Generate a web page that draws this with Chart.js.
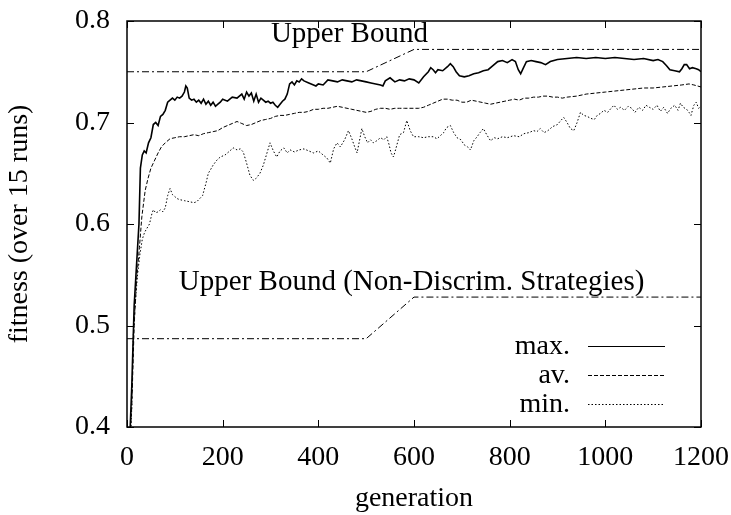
<!DOCTYPE html>
<html>
<head>
<meta charset="utf-8">
<script src="https://cdn.jsdelivr.net/npm/chart.js@4/dist/chart.umd.min.js"></script>
<style>
  html, body { margin: 0; padding: 0; background: #fff; }
  #wrap { width: 731px; height: 515px; }
</style>
</head>
<body>
<div id="wrap"><canvas id="fitChart" width="731" height="515"></canvas></div>
<script>
// Series: [generation, fitness]
const maxSeries = [
  [5,0.38],[10,0.44],[15,0.52],[20,0.56],[25,0.6],[28,0.655],[32,0.668],[36,0.672],[40,0.67],[45,0.68],
  [50,0.685],[55,0.698],[60,0.7],[65,0.697],[70,0.706],[75,0.708],[80,0.712],[85,0.72],[90,0.722],[95,0.724],
  [100,0.722],[105,0.725],[110,0.724],[115,0.726],[120,0.73],[123,0.736],[126,0.734],[130,0.724],[135,0.722],[140,0.723],
  [145,0.72],[150,0.722],[155,0.719],[160,0.723],[165,0.718],[170,0.721],[175,0.717],[180,0.72],[185,0.716],[190,0.718],
  [195,0.72],[200,0.723],[210,0.721],[220,0.725],[230,0.724],[240,0.728],[245,0.723],[250,0.73],[255,0.726],[260,0.729],
  [265,0.721],[270,0.728],[275,0.72],[280,0.724],[285,0.722],[290,0.72],[295,0.721],[300,0.719],[305,0.72],[310,0.717],
  [315,0.715],[320,0.718],[325,0.721],[330,0.723],[335,0.728],[340,0.738],[345,0.74],[350,0.737],[355,0.741],[360,0.74],
  [365,0.743],[370,0.741],[380,0.739],[390,0.737],[395,0.736],[400,0.738],[410,0.737],[420,0.742],[430,0.741],[440,0.74],
  [450,0.742],[460,0.741],[470,0.74],[480,0.742],[490,0.741],[500,0.74],[510,0.739],[520,0.738],[530,0.737],[535,0.736],
  [540,0.741],[550,0.744],[560,0.74],[570,0.742],[580,0.741],[590,0.743],[600,0.742],[610,0.739],[620,0.745],[630,0.75],
  [635,0.754],[640,0.752],[645,0.749],[650,0.752],[660,0.751],[670,0.755],[676,0.758],[682,0.755],[688,0.75],[695,0.746],
  [705,0.745],[715,0.746],[725,0.748],[735,0.749],[745,0.751],[755,0.752],[765,0.756],[775,0.76],[785,0.761],[795,0.759],
  [805,0.762],[812,0.76],[818,0.752],[823,0.748],[828,0.753],[835,0.76],[845,0.761],[855,0.76],[865,0.759],[875,0.757],
  [885,0.76],[900,0.762],[920,0.763],[940,0.764],[960,0.763],[980,0.764],[1000,0.763],[1020,0.764],[1040,0.763],[1060,0.762],
  [1080,0.763],[1100,0.761],[1110,0.762],[1120,0.76],[1128,0.756],[1135,0.752],[1145,0.751],[1155,0.75],[1160,0.753],[1165,0.757],
  [1170,0.757],[1176,0.753],[1182,0.754],[1190,0.753],[1195,0.752],[1200,0.75]
];

const avSeries = [
  [5,0.38],[10,0.42],[15,0.5],[20,0.545],[26,0.577],[31,0.607],[38,0.633],[44,0.645],[50,0.655],[58,0.663],
  [65,0.67],[72,0.676],[80,0.68],[90,0.684],[100,0.685],[110,0.686],[120,0.686],[130,0.687],[140,0.688],[150,0.687],
  [160,0.689],[170,0.69],[180,0.691],[190,0.692],[200,0.695],[210,0.697],[220,0.699],[230,0.701],[240,0.699],[250,0.697],
  [260,0.698],[270,0.7],[280,0.702],[290,0.703],[300,0.704],[310,0.706],[320,0.707],[330,0.707],[340,0.708],[350,0.709],
  [360,0.71],[370,0.71],[380,0.711],[390,0.713],[400,0.713],[410,0.714],[420,0.714],[430,0.715],[440,0.716],[450,0.715],
  [460,0.714],[470,0.713],[480,0.712],[490,0.711],[500,0.71],[510,0.711],[520,0.713],[530,0.714],[540,0.714],[550,0.713],
  [560,0.714],[570,0.714],[580,0.714],[590,0.714],[600,0.714],[610,0.714],[620,0.715],[630,0.717],[640,0.719],[650,0.721],
  [660,0.723],[670,0.723],[680,0.722],[690,0.722],[700,0.72],[710,0.72],[720,0.722],[730,0.721],[740,0.72],[750,0.719],
  [760,0.718],[770,0.719],[780,0.72],[790,0.721],[800,0.722],[810,0.723],[820,0.722],[830,0.724],[840,0.724],[850,0.725],
  [860,0.725],[870,0.726],[880,0.726],[890,0.725],[900,0.725],[910,0.724],[920,0.725],[940,0.726],[960,0.728],[980,0.729],
  [1000,0.73],[1020,0.731],[1040,0.732],[1060,0.733],[1080,0.734],[1100,0.734],[1120,0.735],[1140,0.736],[1160,0.737],[1175,0.738],
  [1185,0.737],[1200,0.735]
];

const minSeries = [
  [7,0.38],[10,0.42],[13,0.489],[17,0.52],[22,0.55],[27,0.57],[32,0.585],[37,0.592],[42,0.596],[47,0.6],
  [52,0.61],[55,0.614],[60,0.611],[65,0.612],[70,0.614],[75,0.612],[80,0.616],[85,0.628],[90,0.635],[95,0.629],
  [100,0.627],[105,0.625],[110,0.624],[120,0.623],[130,0.622],[140,0.621],[146,0.622],[152,0.625],[158,0.628],[165,0.64],
  [170,0.65],[174,0.653],[180,0.658],[188,0.663],[195,0.666],[205,0.668],[215,0.672],[222,0.675],[230,0.673],[237,0.674],
  [243,0.671],[250,0.66],[257,0.648],[264,0.643],[270,0.645],[278,0.65],[285,0.658],[292,0.669],[299,0.68],[306,0.672],
  [313,0.666],[320,0.672],[328,0.675],[335,0.67],[341,0.673],[350,0.671],[360,0.673],[370,0.674],[380,0.672],[390,0.67],
  [400,0.672],[410,0.668],[418,0.665],[425,0.66],[432,0.674],[439,0.68],[446,0.676],[455,0.683],[463,0.692],[470,0.684],
  [476,0.676],[481,0.67],[486,0.682],[491,0.694],[497,0.686],[503,0.68],[509,0.683],[515,0.68],[522,0.682],[530,0.685],
  [537,0.683],[543,0.686],[548,0.678],[552,0.67],[557,0.666],[562,0.674],[570,0.688],[578,0.69],[585,0.702],[592,0.692],
  [599,0.686],[610,0.686],[620,0.685],[630,0.686],[640,0.686],[648,0.684],[655,0.687],[662,0.69],[668,0.695],[676,0.697],
  [683,0.69],[690,0.685],[698,0.683],[705,0.678],[712,0.676],[718,0.673],[725,0.682],[732,0.686],[738,0.69],[745,0.694],
  [752,0.688],[760,0.682],[768,0.685],[775,0.684],[785,0.686],[795,0.685],[808,0.687],[820,0.686],[830,0.689],[840,0.69],
  [850,0.692],[857,0.691],[864,0.694],[872,0.69],[880,0.692],[890,0.696],[900,0.698],[907,0.702],[913,0.705],[920,0.7],
  [927,0.694],[934,0.692],[941,0.7],[948,0.71],[955,0.707],[962,0.706],[970,0.704],[977,0.703],[983,0.707],[990,0.709],
  [997,0.712],[1005,0.71],[1012,0.714],[1018,0.717],[1025,0.713],[1032,0.715],[1040,0.712],[1048,0.716],[1055,0.714],[1062,0.71],
  [1070,0.715],[1078,0.712],[1085,0.717],[1092,0.715],[1100,0.713],[1108,0.717],[1115,0.711],[1122,0.715],[1130,0.709],[1137,0.714],
  [1145,0.717],[1152,0.712],[1157,0.719],[1163,0.715],[1170,0.713],[1175,0.71],[1179,0.707],[1185,0.717],[1190,0.72],[1195,0.714],
  [1200,0.716]
];

const upperBound = [[0,0.75],[500,0.75],[600,0.772],[1200,0.772]];
const upperBoundNonDiscrim = [[0,0.487],[500,0.487],[600,0.528],[1200,0.528]];

const xTicks = [0, 200, 400, 600, 800, 1000, 1200];
const yTicks = [0.4, 0.5, 0.6, 0.7, 0.8];

const legendNames = ['max.', 'av.', 'min.'];
const boundLabels = [
  { text: 'Upper Bound', gen: 465, fit: 0.787 },
  { text: 'Upper Bound (Non-Discrim. Strategies)', gen: 595, fit: 0.542 }
];

const FONT = '"Liberation Serif", "Times New Roman", serif';
const toPts = arr => arr.map(p => ({ x: p[0], y: p[1] }));

const lineStyles = [
  { width: 1.6, dash: [] },
  { width: 1, dash: [4, 2] },
  { width: 1, dash: [1.5, 2] }
];

// frame, inward ticks, text labels and key
const decorPlugin = {
  id: 'decor',
  afterDraw(chart) {
    const { ctx, chartArea: a, scales: { x, y } } = chart;
    ctx.save();
    ctx.strokeStyle = '#000';
    ctx.lineWidth = 1.5;
    ctx.strokeRect(a.left, a.top, a.right - a.left, a.bottom - a.top);

    ctx.lineWidth = 1;
    ctx.beginPath();
    xTicks.forEach(t => {
      const px = Math.round(x.getPixelForValue(t)) + 0.5;
      ctx.moveTo(px, a.bottom); ctx.lineTo(px, a.bottom - 7);
      ctx.moveTo(px, a.top); ctx.lineTo(px, a.top + 7);
    });
    yTicks.forEach(t => {
      const py = Math.round(y.getPixelForValue(t)) + 0.5;
      ctx.moveTo(a.left, py); ctx.lineTo(a.left + 7, py);
      ctx.moveTo(a.right, py); ctx.lineTo(a.right - 7, py);
    });
    ctx.stroke();

    ctx.fillStyle = '#000';
    ctx.font = '29px ' + FONT;
    ctx.textAlign = 'center';
    ctx.textBaseline = 'middle';
    boundLabels.forEach(l => {
      ctx.fillText(l.text, x.getPixelForValue(l.gen), y.getPixelForValue(l.fit));
    });

    // key
    ctx.font = '28px ' + FONT;
    ctx.textAlign = 'right';
    legendNames.forEach((name, i) => {
      const py = a.bottom - 81 + i * 29;
      ctx.fillText(name, a.right - 131, py + 1);
      ctx.beginPath();
      ctx.lineWidth = i === 0 ? 1.2 : 1;
      ctx.setLineDash(lineStyles[i].dash);
      ctx.moveTo(a.right - 113, py + 0.5);
      ctx.lineTo(a.right - 36, py + 0.5);
      ctx.stroke();
    });
    ctx.restore();
  }
};

const curve = (label, data, i) => ({
  label,
  data: toPts(data),
  borderColor: '#000',
  borderWidth: lineStyles[i].width,
  borderDash: lineStyles[i].dash,
  pointRadius: 0,
  tension: 0,
  fill: false
});

const bound = (label, data) => ({
  label,
  data: toPts(data),
  borderColor: '#000',
  borderWidth: 1,
  borderDash: [7, 3, 2, 3],
  pointRadius: 0,
  tension: 0,
  fill: false
});

new Chart(document.getElementById('fitChart').getContext('2d'), {
  type: 'line',
  data: {
    datasets: [
      bound('Upper Bound', upperBound),
      bound('Upper Bound (Non-Discrim. Strategies)', upperBoundNonDiscrim),
      curve('max.', maxSeries, 0),
      curve('av.', avSeries, 1),
      curve('min.', minSeries, 2)
    ]
  },
  options: {
    responsive: false,
    animation: false,
    layout: { padding: { top: 21, right: 30, left: 0, bottom: 0 } },
    plugins: { legend: { display: false }, tooltip: { enabled: false } },
    scales: {
      x: {
        type: 'linear',
        min: 0,
        max: 1200,
        afterFit: s => { s.height = 88; s.paddingLeft = 0; s.paddingRight = 0; },
        afterBuildTicks: s => { s.ticks = xTicks.map(v => ({ value: v })); },
        grid: { display: false, drawTicks: false },
        border: { display: false },
        ticks: { color: '#000', font: { family: FONT, size: 28 }, padding: 14, maxRotation: 0, autoSkip: false, callback: v => String(v) },
        title: { display: true, text: 'generation', color: '#000', font: { family: FONT, size: 28 }, padding: { top: 0, bottom: 0 } }
      },
      y: {
        min: 0.4,
        max: 0.8,
        afterFit: s => { s.width = 127; s.paddingTop = 0; s.paddingBottom = 0; },
        afterBuildTicks: s => { s.ticks = yTicks.map(v => ({ value: v })); },
        grid: { display: false, drawTicks: false },
        border: { display: false },
        ticks: { color: '#000', font: { family: FONT, size: 28 }, padding: 17, callback: v => Number(v).toFixed(1) },
        title: { display: true, text: 'fitness (over 15 runs)', color: '#000', font: { family: FONT, size: 28 }, padding: { top: 3, bottom: 0 } }
      }
    }
  },
  plugins: [decorPlugin]
});
</script>
</body>
</html>
